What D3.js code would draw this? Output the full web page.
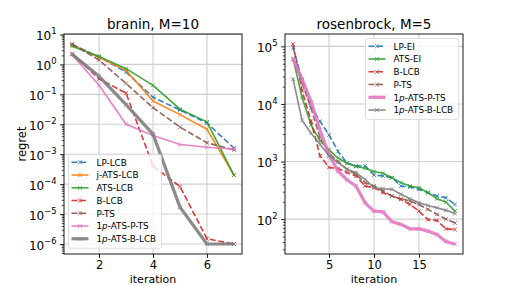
<!DOCTYPE html>
<html>
<head>
<meta charset="utf-8">
<script src="https://cdn.jsdelivr.net/npm/d3@7"></script>
<style>
  body { margin: 0; background: #fff; }
  text { font-family: "DejaVu Sans", sans-serif; }
</style>
</head>
<body>
<svg id="chart"></svg>
<script>
// ---------------- data ----------------
const braninIter = [1, 2, 3, 4, 5, 6, 7]
const braninLPLCB = [4.6, 1.8, 0.55, 0.08, 0.03, 0.011, 0.0016]
const braninJATSLCB = [4.5, 1.7, 0.63, 0.06, 0.021, 0.0068, 0.0002]
const braninATSLCB = [4.0, 1.85, 0.72, 0.2, 0.032, 0.012, 0.0002]
const braninBLCB = [2.3, 0.33, 0.11, 0.0004, 0.000083, 0.0000015, 0.000001]
const braninPTS = [4.8, 1.4, 0.23, 0.036, 0.008, 0.0024, 0.0014]
const branin1pATSPTS = [2.1, 0.2, 0.01, 0.0042, 0.0021, 0.0017, 0.0015]
const branin1pATSBLCB = [2.2, 0.4, 0.045, 0.0047, 0.000017, 0.000001, 0.000001]
const braninNames = ['LP-LCB', 'j-ATS-LCB', 'ATS-LCB', 'B-LCB', 'P-TS', '1p-ATS-P-TS', '1p-ATS-B-LCB']

const rosenIter = [1, 2, 3, 4, 5, 6, 7, 8, 9, 10, 11, 12, 13, 14, 15, 16, 17, 18, 19]
const rosenLPEI = [95000, 26000, 9000, 5000, 2900, 1500, 935, 840, 840, 585, 560, 525, 376, 362, 329, 288, 252, 235, 180]
const rosenATSEI = [60000, 13000, 4300, 2300, 1600, 1150, 935, 818, 765, 670, 626, 525, 430, 376, 352, 288, 226, 198, 138]
const rosenBLCB = [110000, 17000, 5000, 1250, 790, 755, 643, 562, 376, 352, 288, 252, 220, 180, 138, 98, 95, 68, 66]
const rosenPTS = [61000, 23000, 8500, 2600, 1400, 1000, 735, 600, 430, 376, 308, 252, 226, 206, 180, 148, 121, 100, 86]
const rosen1pATSPTS = [60000, 27000, 11000, 3500, 1300, 680, 479, 376, 192, 138, 134, 90, 81, 68, 68, 62, 54, 41, 37]
const rosen1pATSBLCB = [27000, 5200, 3100, 2000, 1250, 960, 735, 643, 492, 352, 338, 329, 270, 226, 192, 173, 158, 142, 125]
const rosenNames = ['LP-EI', 'ATS-EI', 'B-LCB', 'P-TS', '1p-ATS-P-TS', '1p-ATS-B-LCB']

const braninXTicks = [2, 4, 6]
const rosenXTicks = [5, 10, 15]

// ---------------- styles ----------------
const col = {
  blue: '#1f77b4', orange: '#ff7f0e', green: '#2ca02c', red: '#d62728',
  brown: '#8c564b', pink: '#e377c2', gray: '#7f7f7f'
}
const LW = 1.6
const DASH = '6,2.6'

const width = 514
const height = 286

const svg = d3.select('#chart')
  .attr('width', width)
  .attr('height', height)
  .attr('viewBox', [0, 0, width, height])

function logExtent(arrs) {
  const all = arrs.flat()
  const lo = Math.log10(d3.min(all)), hi = Math.log10(d3.max(all))
  const m = (hi - lo) * 0.05
  return [Math.pow(10, lo - m), Math.pow(10, hi + m)]
}

function drawName(sel, name) {
  if (name.startsWith('1p')) {
    sel.append('tspan').text('1')
    sel.append('tspan').attr('font-style', 'italic').text('p')
    sel.append('tspan').text(name.slice(2))
  } else {
    sel.text(name)
  }
}

function panel(cfg) {
  const { left, right, top, bottom } = cfg.box
  const xExt = d3.extent(cfg.iter)
  const xm = (xExt[1] - xExt[0]) * 0.05
  const x = d3.scaleLinear().domain([xExt[0] - xm, xExt[1] + xm]).range([left, right])
  const y = d3.scaleLog().domain(logExtent(cfg.series)).range([bottom, top])

  const g = svg.append('g')

  // grid
  const [d0, d1] = y.domain()
  const majors = d3.range(Math.ceil(Math.log10(d0)), Math.floor(Math.log10(d1)) + 1).map(e => Math.pow(10, e))
  const minors = []
  d3.range(Math.floor(Math.log10(d0)), Math.ceil(Math.log10(d1)) + 1).forEach(e => {
    for (let k = 2; k < 10; k++) {
      const v = k * Math.pow(10, e)
      if (v >= d0 && v <= d1) minors.push(v)
    }
  })

  g.append('g').selectAll('line').data(majors).join('line')
    .attr('x1', left).attr('x2', right)
    .attr('y1', d => y(d)).attr('y2', d => y(d))
    .attr('stroke', '#cfcfcf').attr('stroke-width', 1.1)
  g.append('g').selectAll('line').data(cfg.xTicks).join('line')
    .attr('x1', d => x(d)).attr('x2', d => x(d))
    .attr('y1', top).attr('y2', bottom)
    .attr('stroke', '#cfcfcf').attr('stroke-width', 1.1)

  // lines
  const line = d3.line().x((d, i) => x(cfg.iter[i])).y(d => y(d))
  cfg.series.forEach((vals, si) => {
    const st = cfg.styles[si]
    const sg = g.append('g').attr('opacity', 0.9)
    sg.append('path')
      .attr('d', line(vals))
      .attr('fill', 'none')
      .attr('stroke', st.color)
      .attr('stroke-width', st.width)
      .attr('stroke-dasharray', st.dash ? DASH : null)
      .attr('stroke-linejoin', 'round')
    const s = 1.8
    sg.selectAll('path.m').data(vals).join('path')
      .attr('class', 'm')
      .attr('d', (d, i) => {
        const cx = x(cfg.iter[i]), cy = y(d)
        return `M${cx - s},${cy - s}L${cx + s},${cy + s}M${cx - s},${cy + s}L${cx + s},${cy - s}`
      })
      .attr('stroke', st.color)
      .attr('stroke-width', 1)
  })

  // axes
  const xAxis = g.append('g').attr('transform', `translate(0,${bottom})`)
    .call(d3.axisBottom(x).tickValues(cfg.xTicks).tickFormat(d3.format('d'))
      .tickSize(3.9).tickPadding(2.5).tickSizeOuter(0))
  xAxis.select('.domain').remove()
  xAxis.selectAll('text').attr('font-size', 11.5).attr('fill', '#000')
  xAxis.selectAll('line').attr('stroke-width', 0.9)

  g.append('g').attr('transform', `translate(${left},0)`)
    .call(d3.axisLeft(y).tickValues(minors).tickSize(2.2).tickFormat(''))
    .call(a => a.select('.domain').remove())
    .selectAll('line').attr('stroke-width', 0.7)

  const yAxis = g.append('g').attr('transform', `translate(${left},0)`)
    .call(d3.axisLeft(y).tickValues(majors).tickSize(3.9).tickPadding(3.5))
  yAxis.select('.domain').remove()
  yAxis.selectAll('line').attr('stroke-width', 0.9)
  yAxis.selectAll('text').each(function (d) {
    const t = d3.select(this).text('').attr('font-size', 12).attr('fill', '#000').attr('dy', '0.45em')
    const e = Math.round(Math.log10(d))
    t.append('tspan').text('10')
    t.append('tspan').attr('font-size', 8.4).attr('dy', '-0.75em').text(e < 0 ? '\u2212' + (-e) : String(e))
  })

  // frame
  g.append('rect')
    .attr('x', left).attr('y', top)
    .attr('width', right - left).attr('height', bottom - top)
    .attr('fill', 'none').attr('stroke', '#000').attr('stroke-width', 0.9)

  // title and labels
  g.append('text')
    .attr('x', (left + right) / 2).attr('y', 29)
    .attr('text-anchor', 'middle').attr('font-size', 13.5)
    .text(cfg.title)
  g.append('text')
    .attr('x', (left + right) / 2).attr('y', 283)
    .attr('text-anchor', 'middle').attr('font-size', 11)
    .text('iteration')
  if (cfg.ylabel) {
    g.append('text')
      .attr('transform', `translate(26,${(top + bottom) / 2}) rotate(-90)`)
      .attr('text-anchor', 'middle').attr('font-size', 11.5)
      .text(cfg.ylabel)
  }

  // legend
  const L = cfg.legend
  const lg = g.append('g')
  lg.append('rect')
    .attr('x', L.x).attr('y', L.y).attr('width', L.w)
    .attr('height', cfg.names.length * 12.75 + 4.5)
    .attr('rx', 2).attr('fill', '#fff').attr('fill-opacity', 0.8)
    .attr('stroke', '#d6d6d6').attr('stroke-width', 0.8)
  cfg.names.forEach((name, i) => {
    const st = cfg.styles[i]
    const cy = L.y + 7.8 + i * 12.75
    const row = lg.append('g').attr('opacity', 0.9)
    row.append('line')
      .attr('x1', L.x + 3).attr('x2', L.x + 20)
      .attr('y1', cy).attr('y2', cy)
      .attr('stroke', st.color).attr('stroke-width', st.width)
      .attr('stroke-dasharray', st.dash ? DASH : null)
    const mx = L.x + 11.5, s = 1.8
    row.append('path')
      .attr('d', `M${mx - s},${cy - s}L${mx + s},${cy + s}M${mx - s},${cy + s}L${mx + s},${cy - s}`)
      .attr('stroke', st.color).attr('stroke-width', 1)
    const t = lg.append('text')
      .attr('x', L.x + 28).attr('y', cy + 3.2)
      .attr('font-size', 8.8)
    drawName(t, name)
  })
}

panel({
  title: 'branin, M=10',
  ylabel: 'regret',
  box: { left: 64, right: 242, top: 34, bottom: 254 },
  iter: braninIter,
  xTicks: braninXTicks,
  series: [braninLPLCB, braninJATSLCB, braninATSLCB, braninBLCB, braninPTS, branin1pATSPTS, branin1pATSBLCB],
  names: braninNames,
  styles: [
    { color: col.blue, width: LW, dash: true },
    { color: col.orange, width: LW, dash: false },
    { color: col.green, width: LW, dash: false },
    { color: col.red, width: LW, dash: true },
    { color: col.brown, width: LW, dash: true },
    { color: col.pink, width: LW, dash: false },
    { color: col.gray, width: 3.2, dash: false }
  ],
  legend: { x: 68.5, y: 154.5, w: 93 }
})

panel({
  title: 'rosenbrock, M=5',
  ylabel: null,
  box: { left: 285, right: 463, top: 34, bottom: 254 },
  iter: rosenIter,
  xTicks: rosenXTicks,
  series: [rosenLPEI, rosenATSEI, rosenBLCB, rosenPTS, rosen1pATSPTS, rosen1pATSBLCB],
  names: rosenNames,
  styles: [
    { color: col.blue, width: LW, dash: true },
    { color: col.green, width: LW, dash: false },
    { color: col.red, width: LW, dash: true },
    { color: col.brown, width: LW, dash: true },
    { color: col.pink, width: 3.2, dash: false },
    { color: col.gray, width: LW, dash: false }
  ],
  legend: { x: 365.5, y: 38.5, w: 93 }
})
</script>
</body>
</html>
